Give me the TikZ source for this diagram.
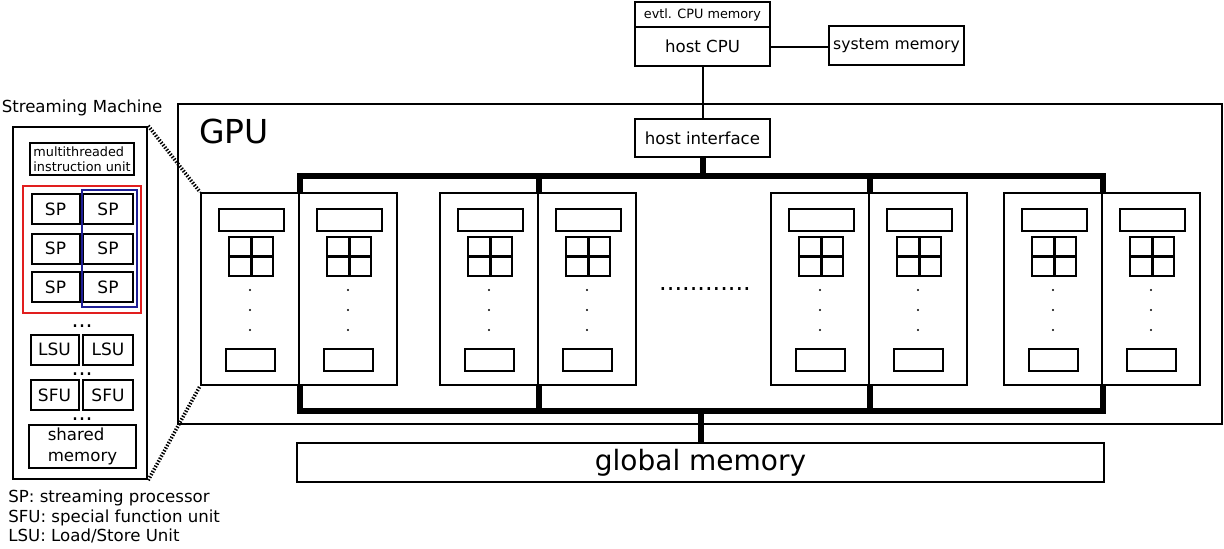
\documentclass[tikz,border=0pt]{standalone}
\usepackage{fontspec}
\setmainfont{DejaVu Sans}
\definecolor{spred}{RGB}{225,30,30}
\definecolor{spblue}{RGB}{30,30,150}
\tikzset{
  box/.style={draw, line width=1pt, inner sep=0pt, font=\fontsize{8.3}{10}\selectfont},
  smbox/.style={box, minimum width=49pt, minimum height=96pt},
  spbox/.style={box, minimum height=15pt, font=\fontsize{8.5}{10}\selectfont},
  bus/.style={line width=3pt},
  zoomline/.style={line width=1.8pt, dash pattern=on 0.7pt off 0.8pt},
}
\begin{document}
\begin{tikzpicture}[x=0.5pt,y=-0.5pt]
		\useasboundingbox (0,0) rectangle (1224,548);
		% host side
		\node[box, minimum width=67.5pt, minimum height=12.5pt, font=\fontsize{6.4}{7}\selectfont] (evtl) at (702.5,14.5) {evtl. CPU memory};
		\node[box, minimum width=67.5pt, minimum height=19.5pt] (cpu) at (702.5,46.5) {host CPU};
		\node[box, minimum width=67.5pt, minimum height=19.5pt, font=\fontsize{7.8}{9}\selectfont] (sysmem) at (896.5,45.5) {system memory};
		\node[box, minimum width=67.5pt, minimum height=19pt] (hif) at (702.5,138) {host interface};
		\draw[line width=1pt] (cpu.east) -- (cpu.east -| sysmem.west);
		\draw[line width=1pt] (cpu.south) -- (hif.north);
		% GPU
		\node[draw, line width=0.75pt, minimum width=522pt, minimum height=160pt] (gpu) at (700,264) {};
		\node[anchor=west, inner sep=0pt, font=\fontsize{16.5}{18}\selectfont] (gpulabel) at (199,131) {GPU};
		\foreach \p/\cx in {1/250,2/489,3/820,4/1053}{
			\node[smbox] (smA\p) at (\cx,289) {};
			\node[smbox] (smB\p) at (\cx+98,289) {};
		}
		\foreach \cx in {250,348,489,587,820,918,1053,1151}{
			\node[box, minimum width=32.5pt, minimum height=11pt] (reg\cx) at (\cx+1,220) {};
			\node[box, minimum width=22pt, minimum height=19.5pt] (grid\cx) at (\cx+1,256.5) {};
			\draw[line width=1.5pt] (grid\cx.north) -- (grid\cx.south) (grid\cx.west) -- (grid\cx.east);
			\foreach \y in {290,310,330}
				\fill (\cx,\y) circle (1.1);
			\node[box, minimum width=24.5pt, minimum height=11pt] (mem\cx) at (\cx+0.5,360) {};
		}
		\node[anchor=base, inner sep=0pt, font=\fontsize{12}{14}\selectfont] (moredots) at (705,290) {............};
		% buses
		\coordinate (bustop) at (0,176);
		\coordinate (busbot) at (0,411);
		\draw[bus] (smA1.north east) -- (smA1.north east |- bustop) -- (smA4.north east |- bustop) -- (smA4.north east);
		\draw[bus] (smA2.north east) -- (smA2.north east |- bustop);
		\draw[bus] (smA3.north east) -- (smA3.north east |- bustop);
		\draw[bus] (hif.south) -- (hif.south |- bustop);
		\draw[bus] (smA1.south east) -- (smA1.south east |- busbot) -- (smA4.south east |- busbot) -- (smA4.south east);
		\draw[bus] (smA2.south east) -- (smA2.south east |- busbot);
		\draw[bus] (smA3.south east) -- (smA3.south east |- busbot);
		\node[box, minimum width=403.5pt, minimum height=19.5pt, font=\fontsize{14}{16}\selectfont] (gmem) at (700.5,462.5) {global memory};
		\draw[bus] (gmem.north) -- (gmem.north |- busbot);
		% streaming machine
		\node[font=\fontsize{8.3}{10}\selectfont] (smlabel) at (82,108) {Streaming Machine};
		\node[draw, line width=1.2pt, minimum width=67pt, minimum height=176pt] (sm) at (80,303) {};
		\node[box, minimum width=52pt, minimum height=16pt, align=left, font=\fontsize{6.4}{7.5}\selectfont] (mtiu) at (82,159) {multithreaded\\instruction unit};
		\draw[spred, line width=0.75pt] (23,186) rectangle (141,313);
		\foreach \i/\y in {1/209,2/248.5,3/287}{
			\node[spbox, minimum width=24pt] (spL\i) at (55.5,\y) {SP};
			\node[spbox, minimum width=25pt] (spR\i) at (108,\y) {SP};
		}
		\draw[spblue, line width=0.75pt] (82,190) rectangle (137,307);
		\node[spbox, minimum width=24pt] (lsuL) at (54.5,349.5) {LSU};
		\node[spbox, minimum width=25pt] (lsuR) at (108,349.5) {LSU};
		\node[spbox, minimum width=24pt] (sfuL) at (54.5,395) {SFU};
		\node[spbox, minimum width=25pt] (sfuR) at (108,395) {SFU};
		\foreach \y in {327,375,420}
			\node[anchor=base, inner sep=0pt, font=\fontsize{11}{12}\selectfont] (dots\y) at (82,\y) {...};
		\node[box, minimum width=53.5pt, minimum height=21.5pt, align=left, font=\fontsize{8.3}{10.5}\selectfont] (shmem) at (82.5,446.5) {shared\\memory};
		\draw[zoomline] (sm.north east) -- (smA1.north west);
		\draw[zoomline] (sm.south east) -- (smA1.south west);
		% legend
		\node[anchor=base west, inner sep=0pt, font=\fontsize{8.3}{10}\selectfont] (legSP) at (8,502) {SP: streaming processor};
		\node[anchor=base west, inner sep=0pt, font=\fontsize{8.3}{10}\selectfont] (legSFU) at (8,522) {SFU: special function unit};
		\node[anchor=base west, inner sep=0pt, font=\fontsize{8.3}{10}\selectfont] (legLSU) at (8,541) {LSU: Load/Store Unit};
	\end{tikzpicture}
\end{document}
